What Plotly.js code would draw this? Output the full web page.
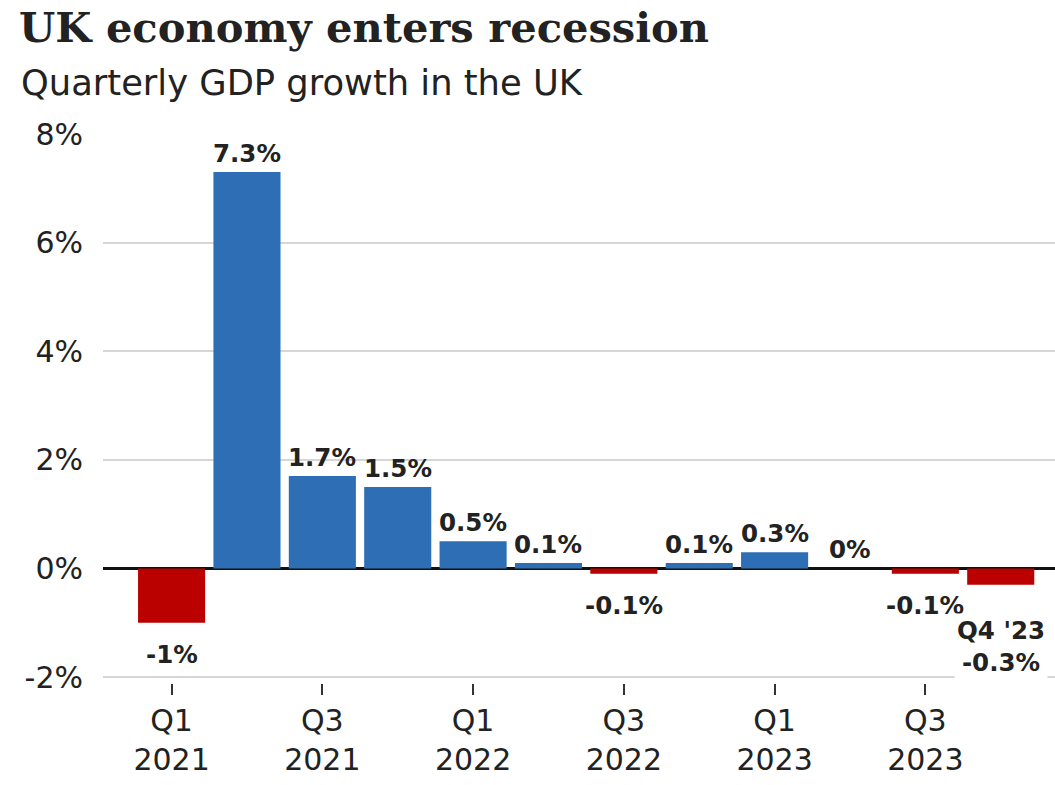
<!DOCTYPE html>
<html>
<head>
<meta charset="utf-8">
<script src="https://cdn.plot.ly/plotly-3.0.1.min.js"></script>
<style>html,body{margin:0;padding:0;background:#fff;}#chart{width:1055px;height:785px;}</style>
</head>
<body>
<div id="chart"></div>
<script>
const categories = ["Q1 2021","Q2 2021","Q3 2021","Q4 2021","Q1 2022","Q2 2022","Q3 2022","Q4 2022","Q1 2023","Q2 2023","Q3 2023","Q4 2023"];
const growth = [-1, 7.3, 1.7, 1.5, 0.5, 0.1, -0.1, 0.1, 0.3, 0, -0.1, -0.3];
const barLabels = ["-1%","7.3%","1.7%","1.5%","0.5%","0.1%","-0.1%","0.1%","0.3%","0%","-0.1%","Q4 '23<br>-0.3%"];
const tickCategories = ["Q1 2021","Q3 2021","Q1 2022","Q3 2022","Q1 2023","Q3 2023"];
const tickLabels = ["Q1<br>2021","Q3<br>2021","Q1<br>2022","Q3<br>2022","Q1<br>2023","Q3<br>2023"];
const yTickVals = [-2, 0, 2, 4, 6, 8];
const yTickText = ["-2%","0%","2%","4%","6%","8%"];

const BLUE = "#2e6eb4", RED = "#bb0000", INK = "#222222";
const SANS = "DejaVu Sans";
const W = 1055, H = 785, ML = 103, MT = 134, MB = 102;
const plotH = H - MT - MB, plotW = W - ML;

const trace = {
  type: "bar",
  x: categories,
  y: growth,
  marker: {color: growth.map(v => v < 0 ? RED : BLUE)},
  hoverinfo: "skip"
};

const annotations = growth.map((v, i) => {
  const neg = v < 0;
  const last = i === growth.length - 1;
  return {
    x: categories[i], y: v, xref: "x", yref: "y",
    text: barLabels[i], showarrow: false,
    xanchor: "center", yanchor: neg ? "top" : "bottom",
    yshift: last ? -28 : (neg ? -16 : 3),
    font: {family: SANS, size: 24.5, color: INK, weight: 700},
    bgcolor: last ? "#ffffff" : "rgba(0,0,0,0)",
    borderpad: last ? 2 : 0
  };
});

annotations.push({
  xref: "paper", yref: "paper",
  x: (19 - ML) / plotW, y: (H - MB - 83) / plotH,
  xanchor: "left", yanchor: "middle", showarrow: false,
  text: "Quarterly GDP growth in the UK",
  font: {family: SANS, size: 35.3, color: INK}
});

const layout = {
  width: W, height: H,
  margin: {l: ML, r: 0, t: MT, b: MB, pad: 0},
  paper_bgcolor: "#ffffff", plot_bgcolor: "#ffffff",
  showlegend: false,
  bargap: 0.11,
  title: {
    text: "UK economy enters recession",
    x: 19 / W, xanchor: "left", xref: "container",
    y: 1 - 27 / H, yanchor: "middle", yref: "container",
    font: {family: "DejaVu Serif", size: 41.6, color: INK, weight: 700}
  },
  xaxis: {
    type: "category",
    range: [-0.91, 11.72],
    tickmode: "array", tickvals: tickCategories, ticktext: tickLabels,
    ticks: "outside", ticklen: 11, tickwidth: 2, tickcolor: "#333",
    showgrid: false, zeroline: false, showline: false,
    tickfont: {family: SANS, size: 30, color: INK},
    fixedrange: true
  },
  yaxis: {
    range: [-2.11, 8],
    tickmode: "array", tickvals: yTickVals, ticktext: yTickText,
    ticks: "outside", ticklen: 13, tickcolor: "rgba(0,0,0,0)",
    showgrid: true, gridcolor: "#d6d6d6", gridwidth: 2,
    zeroline: true, zerolinecolor: "#111", zerolinewidth: 2.5,
    showline: false,
    tickfont: {family: SANS, size: 30, color: INK},
    fixedrange: true
  },
  annotations: annotations
};

Plotly.newPlot("chart", [trace], layout, {displayModeBar: false, staticPlot: true});
</script>
</body>
</html>
